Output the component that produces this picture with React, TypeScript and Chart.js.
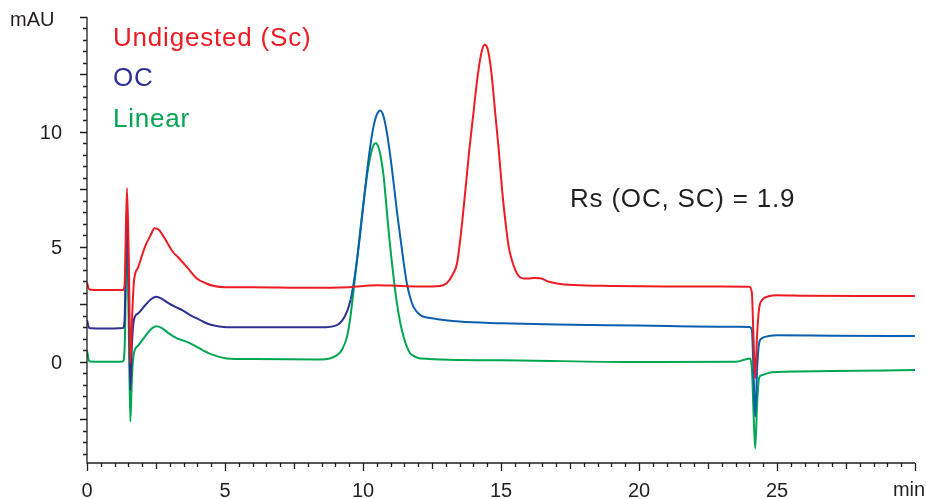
import React, { useEffect, useRef } from "react";
import { Chart, registerables } from "chart.js";

Chart.register(...registerables);

const undigestedX = [0, 0.08, 0.5, 1.0, 1.3, 1.36, 1.45, 1.52, 1.57, 1.63, 1.7, 1.85, 2.1, 2.3, 2.45, 2.6, 2.85, 3.1, 3.3, 3.6, 3.98, 4.3, 4.6, 5.0, 6, 8, 9.5, 10.5, 11.0, 12.0, 12.5, 12.8, 13.04, 13.25, 13.41, 13.55, 13.71, 13.85, 14.0, 14.15, 14.3, 14.41, 14.52, 14.65, 14.79, 14.92, 15.04, 15.16, 15.28, 15.4, 15.52, 15.65, 15.81, 16.0, 16.2, 16.42, 16.7, 17.03, 17.63, 19, 21, 23, 24.0, 24.09, 24.15, 24.21, 24.28, 24.35, 24.46, 24.7, 25.0, 26, 28, 30];
const undigestedY = [3.45, 3.15, 3.12, 3.12, 3.12, 3.3, 7.56, 4.0, -0.06, 1.8, 3.48, 4.1, 5.0, 5.5, 5.81, 5.75, 5.3, 4.8, 4.55, 4.15, 3.63, 3.42, 3.3, 3.25, 3.25, 3.22, 3.25, 3.33, 3.32, 3.28, 3.28, 3.3, 3.43, 3.8, 4.3, 5.6, 7.47, 9.2, 10.81, 12.4, 13.5, 13.79, 13.6, 12.6, 10.83, 9.2, 7.47, 6.1, 5.0, 4.4, 3.99, 3.72, 3.63, 3.62, 3.65, 3.64, 3.5, 3.41, 3.34, 3.3, 3.28, 3.28, 3.27, 3.0, 1.0, -0.72, 1.2, 2.3, 2.69, 2.85, 2.9, 2.88, 2.86, 2.86];

const ocX = [0, 0.08, 0.5, 1.0, 1.3, 1.36, 1.45, 1.52, 1.57, 1.63, 1.7, 1.85, 2.1, 2.3, 2.51, 2.7, 2.95, 3.2, 3.45, 3.74, 4.05, 4.35, 4.65, 4.95, 5.5, 7, 8.45, 9.06, 9.25, 9.42, 9.55, 9.66, 9.78, 9.9, 10.02, 10.14, 10.26, 10.38, 10.5, 10.63, 10.75, 10.87, 10.99, 11.11, 11.23, 11.35, 11.47, 11.59, 11.71, 11.83, 12.08, 12.56, 13.5, 15, 17, 20, 23, 24.0, 24.09, 24.15, 24.21, 24.28, 24.35, 24.45, 24.7, 25.0, 27, 30];
const ocY = [1.82, 1.47, 1.45, 1.45, 1.47, 1.8, 6.8, 2.5, -1.23, 0.8, 1.82, 2.1, 2.45, 2.7, 2.83, 2.75, 2.55, 2.39, 2.25, 2.03, 1.85, 1.67, 1.57, 1.52, 1.5, 1.5, 1.5, 1.6, 1.8, 2.18, 2.7, 3.41, 4.4, 5.59, 6.9, 8.2, 9.35, 10.23, 10.75, 10.93, 10.65, 9.94, 8.95, 7.77, 6.55, 5.44, 4.35, 3.41, 2.8, 2.39, 2.03, 1.89, 1.75, 1.68, 1.62, 1.58, 1.53, 1.52, 1.4, -0.5, -2.39, -0.3, 0.8, 1.02, 1.12, 1.16, 1.14, 1.12];

const linearX = [0, 0.08, 0.5, 1.0, 1.3, 1.36, 1.45, 1.52, 1.57, 1.63, 1.7, 1.85, 2.1, 2.3, 2.51, 2.7, 2.95, 3.26, 3.55, 3.86, 4.2, 4.59, 5.07, 6, 8.45, 9.06, 9.25, 9.42, 9.55, 9.66, 9.78, 9.9, 10.02, 10.14, 10.26, 10.38, 10.47, 10.57, 10.66, 10.75, 10.87, 10.96, 11.05, 11.14, 11.23, 11.35, 11.47, 11.59, 11.71, 11.9, 12.08, 15, 20, 23.5, 24.03, 24.1, 24.15, 24.21, 24.28, 24.35, 24.45, 24.7, 25.0, 27, 30];
const linearY = [0.5, 0.03, 0.0, 0.0, 0.02, 0.5, 5.5, 1.0, -2.6, -0.6, 0.38, 0.7, 1.1, 1.4, 1.55, 1.48, 1.25, 1.02, 0.9, 0.73, 0.5, 0.29, 0.15, 0.12, 0.1, 0.29, 0.55, 1.09, 2.0, 3.12, 4.4, 5.73, 6.95, 8.05, 8.9, 9.43, 9.51, 9.3, 8.8, 8.05, 6.46, 5.3, 4.28, 3.35, 2.54, 1.7, 1.09, 0.65, 0.37, 0.22, 0.15, 0.07, -0.01, 0.0, 0.15, -0.5, -2.2, -3.77, -1.8, -0.7, -0.58, -0.48, -0.44, -0.4, -0.36];

const seriesNames = ["Undigested (Sc)", "OC", "Linear"];
const xTickValues = [0, 5, 10, 15, 20, 25];
const yTickValues = [0, 5, 10];
const yAxisUnit = "mAU";
const xAxisUnit = "min";
const annotationText = "Rs (OC, SC) = 1.9";

const RED = "#ed1c24";
const NAVY = "#2e3192";
const BLUE = "#0b5fae";
const GREEN = "#00a651";
const INK = "#231f20";
const FONT = "'Liberation Sans', Arial, Helvetica, sans-serif";

const toPoints = (xs: number[], ys: number[]) => xs.map((x, i) => ({ x, y: ys[i] }));

export default function App() {
  const canvasRef = useRef<HTMLCanvasElement | null>(null);

  useEffect(() => {
    const canvas = canvasRef.current;
    if (!canvas) return;

    const axesPlugin = {
      id: "customAxes",
      afterDraw(chart: any) {
        const { ctx, chartArea, scales } = chart;
        const xs = scales.x;
        const ys = scales.y;
        ctx.save();
        ctx.strokeStyle = INK;
        ctx.lineWidth = 1.3;
        const left = chartArea.left;
        const bottom = chartArea.bottom;
        ctx.beginPath();
        ctx.moveTo(left, ys.getPixelForValue(15));
        ctx.lineTo(left, bottom);
        ctx.lineTo(xs.getPixelForValue(30), bottom);
        ctx.stroke();
        ctx.beginPath();
        for (let i = -8; i <= 30; i++) {
          const v = i * 0.5;
          const py = Math.round(ys.getPixelForValue(v)) + 0.5;
          const len = v % 2.5 === 0 ? 7 : 4;
          ctx.moveTo(left, py);
          ctx.lineTo(left - len, py);
        }
        for (let i = 0; i <= 60; i++) {
          const v = i * 0.5;
          const px = Math.round(xs.getPixelForValue(v)) + 0.5;
          const len = v % 5 === 0 ? 8 : v % 2.5 === 0 ? 6 : 4;
          ctx.moveTo(px, bottom);
          ctx.lineTo(px, bottom + len);
        }
        ctx.stroke();

        ctx.fillStyle = INK;
        ctx.font = `20px ${FONT}`;
        ctx.textBaseline = "middle";
        ctx.textAlign = "left";
        ctx.fillText(yAxisUnit, 10, 20);
        ctx.textAlign = "center";
        ctx.fillText(xAxisUnit, 909, 490);

        ctx.font = `26px ${FONT}`;
        try { (ctx as any).letterSpacing = "0.8px"; } catch (e) {}
        ctx.textBaseline = "alphabetic";
        ctx.textAlign = "left";
        const colors = [RED, NAVY, GREEN];
        const baselines = [46, 86, 127];
        seriesNames.forEach((name, i) => {
          ctx.fillStyle = colors[i];
          ctx.fillText(name, 113, baselines[i]);
        });
        ctx.fillStyle = INK;
        ctx.fillText(annotationText, 570, 207);
        ctx.restore();
      },
    };

    const chart = new Chart(canvas, {
      type: "line",
      data: {
        datasets: [
          {
            label: seriesNames[0],
            data: toPoints(undigestedX, undigestedY),
            borderColor: RED,
            borderWidth: 2,
            pointRadius: 0,
            cubicInterpolationMode: "monotone",
          },
          {
            label: seriesNames[1],
            data: toPoints(ocX, ocY),
            borderColor: NAVY,
            borderWidth: 2,
            pointRadius: 0,
            cubicInterpolationMode: "monotone",
            segment: {
              borderColor: (ctx: any) => (ctx.p0.parsed.x >= 9.55 ? BLUE : NAVY),
            },
          },
          {
            label: seriesNames[2],
            data: toPoints(linearX, linearY),
            borderColor: GREEN,
            borderWidth: 2,
            pointRadius: 0,
            cubicInterpolationMode: "monotone",
          },
        ],
      },
      options: {
        responsive: false,
        animation: false,
        parsing: false,
        layout: { padding: { top: 17, right: 11, left: 0, bottom: 0 } },
        plugins: { legend: { display: false }, tooltip: { enabled: false } },
        scales: {
          x: {
            type: "linear",
            min: 0,
            max: 30,
            grid: { display: false, drawTicks: false },
            border: { display: false },
            ticks: {
              color: INK,
              font: { family: FONT, size: 20 },
              padding: 16,
              autoSkip: false,
              maxRotation: 0,
            },
            afterBuildTicks: (s: any) => {
              s.ticks = xTickValues.map((v) => ({ value: v }));
            },
            afterFit: (s: any) => {
              s.height = 36;
              s.paddingLeft = 0;
              s.paddingRight = 0;
              s.paddingTop = 0;
              s.paddingBottom = 0;
            },
          },
          y: {
            type: "linear",
            min: -4.4,
            max: 15,
            grid: { display: false, drawTicks: false },
            border: { display: false },
            ticks: {
              color: INK,
              font: { family: FONT, size: 20 },
              padding: 25,
              labelOffset: 2,
              autoSkip: false,
            },
            afterBuildTicks: (s: any) => {
              s.ticks = yTickValues.map((v) => ({ value: v }));
            },
            afterFit: (s: any) => {
              s.width = 87;
              s.paddingLeft = 0;
              s.paddingRight = 0;
              s.paddingTop = 0;
              s.paddingBottom = 0;
            },
          },
        },
      },
      plugins: [axesPlugin],
    } as any);

    return () => chart.destroy();
  }, []);

  return (
    <div style={{ position: "fixed", left: 0, top: 0, width: 926, height: 499, background: "#fff" }}>
      <canvas ref={canvasRef} width={926} height={499} style={{ display: "block" }} />
    </div>
  );
}
